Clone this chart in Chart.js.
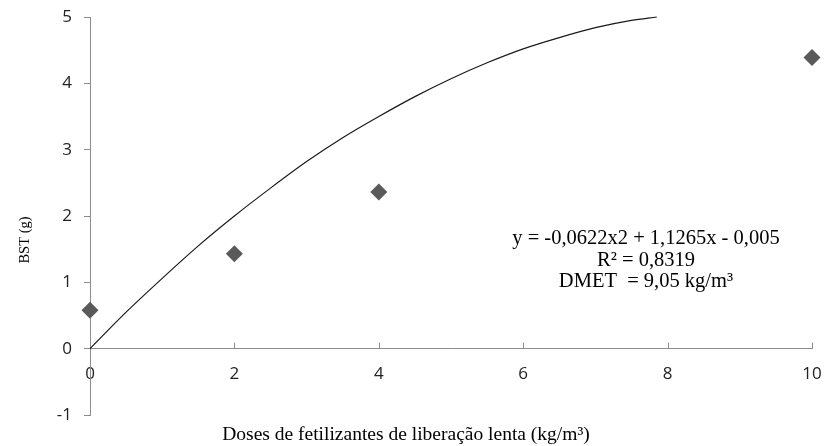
<!DOCTYPE html>
<html>
<head>
<meta charset="utf-8">
<script src="https://cdn.jsdelivr.net/npm/chart.js@4"></script>
<style>
  html, body { margin: 0; padding: 0; background: #fff; }
  #wrap { width: 827px; height: 446px; }
</style>
</head>
<body>
<div id="wrap"><canvas id="grafico"></canvas></div>
<script>
// observed points (dose, BST)
const doses = [0, 2, 4, 10];
const bst = [0.58, 1.43, 2.36, 4.39];

// trend curve (stops where it hits the top of the axis)
const curveX = [0, 0.5, 1, 1.5, 2, 2.5, 3, 3.5, 4, 4.5, 5, 5.5, 6, 6.5, 7, 7.5, 7.85];
const curveY = [0, 0.55, 1.06, 1.55, 2.0, 2.42, 2.82, 3.18, 3.5, 3.8, 4.07, 4.31, 4.52, 4.69, 4.84, 4.95, 5.0];

const xTicks = [0, 2, 4, 6, 8, 10];
const yTicks = [-1, 0, 1, 2, 3, 4, 5];

const eqLines = ['y = -0,0622x2 + 1,1265x - 0,005', 'R² = 0,8319', 'DMET  = 9,05 kg/m³'];
const xTitle = 'Doses de fetilizantes de liberação lenta (kg/m³)';
const yTitle = 'BST (g)';

const axisColor = '#8c8c8c';
const tickFont = { family: 'Open Sans', size: 17 };
const serif = 'Liberation Serif';

// extra bits Excel draws: upward x ticks, titles, equation box
const extras = {
    id: 'extras',
    afterDraw(chart) {
        const c = chart.ctx;
        const xs = chart.scales.x, ys = chart.scales.y;
        const y0 = ys.getPixelForValue(0);
        c.save();
        c.strokeStyle = axisColor;
        c.lineWidth = 1;
        xTicks.forEach(v => {
            if (v === 0) return;
            const px = Math.round(xs.getPixelForValue(v)) + 0.5;
            c.beginPath();
            c.moveTo(px, y0);
            c.lineTo(px, y0 - 6);
            c.stroke();
        });

        c.fillStyle = '#000';
        c.textAlign = 'center';
        c.textBaseline = 'middle';
        c.font = '19.5px "' + serif + '"';
        c.fillText(xTitle, 406, 435);

        c.save();
        c.translate(25, 240);
        c.rotate(-Math.PI / 2);
        c.font = '14.5px "' + serif + '"';
        c.fillText(yTitle, 0, 0);
        c.restore();

        c.font = '20.5px "' + serif + '"';
        eqLines.forEach((t, i) => c.fillText(t, 646, 239 + i * 21.5));
        c.restore();
    }
};

new Chart(document.getElementById('grafico'), {
    type: 'scatter',
    data: {
        datasets: [
            {
                label: 'BST',
                data: doses.map((d, i) => ({ x: d, y: bst[i] })),
                pointStyle: 'rectRot',
                pointRadius: 8.5,
                pointHoverRadius: 8.5,
                backgroundColor: '#5a5a5a',
                borderColor: '#5a5a5a',
                borderWidth: 0
            },
            {
                label: 'Tendência',
                type: 'line',
                data: curveX.map((d, i) => ({ x: d, y: curveY[i] })),
                borderColor: '#1a1a1a',
                borderWidth: 1.2,
                pointRadius: 0,
                fill: false,
                cubicInterpolationMode: 'monotone'
            }
        ]
    },
    options: {
        responsive: true,
        maintainAspectRatio: false,
        animation: false,
        clip: false,
        layout: { padding: { left: 0, right: 15, top: 17, bottom: 31 } },
        plugins: {
            legend: { display: false },
            tooltip: { enabled: false }
        },
        scales: {
            x: {
                type: 'linear',
                position: { y: 0 },
                min: 0,
                max: 10,
                afterBuildTicks: s => { s.ticks = xTicks.map(v => ({ value: v })); },
                afterFit: s => { s.paddingLeft = 0; s.paddingRight = 0; },
                grid: { display: false, drawTicks: false },
                border: { display: true, color: axisColor },
                ticks: { color: '#222', font: tickFont, padding: 15 }
            },
            y: {
                type: 'linear',
                min: -1,
                max: 5,
                afterFit: s => { s.width = 90; s.paddingTop = 0; s.paddingBottom = 0; },
                afterBuildTicks: s => { s.ticks = yTicks.map(v => ({ value: v })); },
                grid: { drawOnChartArea: false, drawTicks: true, tickLength: 6, color: axisColor },
                border: { display: true, color: axisColor },
                ticks: { color: '#222', font: tickFont, padding: 12 }
            }
        }
    },
    plugins: [extras]
});
</script>
</body>
</html>
